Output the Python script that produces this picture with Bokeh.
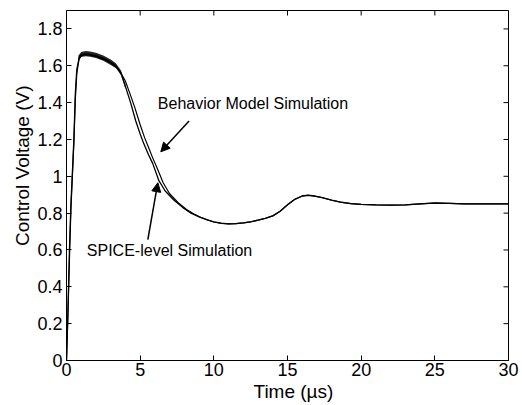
from bokeh.plotting import figure
from bokeh.models import (Range1d, FixedTicker, CustomJSTickFormatter,
                          Arrow, NormalHead, Label, Title)
from bokeh.embed import file_html
from bokeh.resources import INLINE

# ---- data ----
x_ticks = [0, 5, 10, 15, 20, 25, 30]
y_ticks = [0, 0.2, 0.4, 0.6, 0.8, 1.0, 1.2, 1.4, 1.6, 1.8]
X_MAX = 30
Y_MAX = 1.9

spice_t = [0, 0.1, 0.2, 0.3, 0.4, 0.5, 0.6, 0.7, 0.85, 1.0, 1.3, 1.6, 2.0, 2.5, 3.0,
           3.35, 3.7, 4.03, 4.35, 4.7, 5.0, 5.25, 5.55, 5.85, 6.27, 6.7, 7.3, 7.9, 8.45,
           9.0, 9.5, 10, 10.5, 11, 11.5, 12, 12.5, 13, 13.5, 14, 14.5, 15, 15.5, 16,
           16.4, 16.8, 17.3, 18, 18.6, 19.3, 20, 21, 22, 23, 24, 25, 26, 27, 28, 29, 30]
spice_v = [0, 0.28, 0.6, 0.85, 1.02, 1.2, 1.45, 1.58, 1.64, 1.66, 1.665, 1.662, 1.655,
           1.64, 1.62, 1.60, 1.56, 1.48, 1.40, 1.30, 1.23, 1.176, 1.12, 1.07, 0.976,
           0.92, 0.87, 0.83, 0.80, 0.78, 0.765, 0.752, 0.745, 0.742, 0.743, 0.747,
           0.753, 0.762, 0.772, 0.785, 0.81, 0.845, 0.875, 0.893, 0.897, 0.893, 0.885,
           0.87, 0.86, 0.852, 0.848, 0.845, 0.843, 0.845, 0.85, 0.855, 0.853, 0.85,
           0.85, 0.85, 0.85]

# SPICE switching ripple envelope near the peak
ripple_t = [0.8, 1.0, 1.3, 1.6, 2.0, 2.5, 3.0, 3.35, 3.7, 4.0]
ripple_hi = [1.655, 1.675, 1.68, 1.677, 1.67, 1.656, 1.634, 1.614, 1.574, 1.50]
ripple_lo = [1.628, 1.648, 1.652, 1.649, 1.642, 1.627, 1.604, 1.588, 1.548, 1.474]

behav_t = [0, 0.1, 0.2, 0.3, 0.4, 0.5, 0.6, 0.7, 0.85, 1.0, 1.3, 1.6, 2.0, 2.5, 3.0,
           3.55, 3.98, 4.3, 4.65, 5.0, 5.3, 5.55, 5.85, 6.15, 6.56, 7.0, 7.6, 8.15, 8.65,
           9.1, 9.55, 10, 10.5, 11, 11.5, 12, 12.5, 13, 13.5, 14, 14.5, 15, 15.5, 16,
           16.4, 16.8, 17.3, 18, 18.6, 19.3, 20, 21, 22, 23, 24, 25, 26, 27, 28, 29, 30]
behav_v = [0, 0.25, 0.55, 0.82, 1.0, 1.18, 1.42, 1.56, 1.635, 1.655, 1.66, 1.658, 1.65,
           1.635, 1.615, 1.58, 1.52, 1.45, 1.37, 1.28, 1.21, 1.16, 1.10, 1.045, 0.965,
           0.905, 0.855, 0.82, 0.795, 0.778, 0.764, 0.752, 0.745, 0.742, 0.743, 0.747,
           0.753, 0.762, 0.772, 0.785, 0.81, 0.845, 0.875, 0.893, 0.897, 0.893, 0.885,
           0.87, 0.86, 0.852, 0.848, 0.845, 0.843, 0.845, 0.85, 0.855, 0.853, 0.85,
           0.85, 0.85, 0.85]

FONT = "Liberation Sans"

p = figure(frame_width=442, frame_height=350, output_backend="svg", toolbar_location=None,
           x_range=Range1d(0, X_MAX), y_range=Range1d(0, Y_MAX),
           min_border_left=66, min_border_right=14, min_border_top=10,
           min_border_bottom=45)
p.background_fill_color = "white"
p.border_fill_color = "white"
p.outline_line_color = "black"
p.outline_line_width = 1
p.xgrid.visible = False
p.ygrid.visible = False

fmt = CustomJSTickFormatter(code="return String(Number(tick.toFixed(2)));")

for ax, ticks in ((p.xaxis[0], x_ticks), (p.yaxis[0], y_ticks)):
    ax.ticker = FixedTicker(ticks=ticks)
    ax.major_tick_in = 5
    ax.major_tick_out = 0
    ax.minor_tick_line_color = None
    ax.axis_line_color = "black"
    ax.major_tick_line_color = "black"
    ax.major_label_text_font = FONT
    ax.major_label_text_font_size = "18px"
    ax.major_label_text_color = "black"
p.yaxis[0].formatter = fmt
p.xaxis[0].major_label_standoff = 2
p.yaxis[0].major_label_standoff = 4

# axis titles as side titles so that their position along the frame can be set
p.add_layout(Title(text="Control Voltage (V)", align="right", offset=75, standoff=4,
                   text_font=FONT, text_font_size="19px", text_font_style="normal",
                   text_color="black"), "left")
p.add_layout(Title(text="Time (µs)", align="left", offset=187, standoff=0,
                   text_font=FONT, text_font_size="19px", text_font_style="normal",
                   text_color="black"), "below")

# box ticks on top and right edges (inward), drawn as dash markers clipped by the frame
p.scatter(x=x_ticks, y=[Y_MAX] * len(x_ticks), marker="dash", size=10, angle=1.5708,
          line_color="black", line_width=1)
p.scatter(x=[X_MAX] * len(y_ticks), y=y_ticks, marker="dash", size=10,
          line_color="black", line_width=1)

# curves
p.varea(x=ripple_t, y1=ripple_lo, y2=ripple_hi, fill_color="black", fill_alpha=0.85)
p.line(behav_t, behav_v, line_color="black", line_width=1.2)
p.line(spice_t, spice_v, line_color="black", line_width=1.3)

# annotations
p.add_layout(Label(x=6.2, y=1.393, text="Behavior Model Simulation", text_font=FONT,
                   text_font_size="16px", text_color="black", text_baseline="middle",
                   text_align="left"))
p.add_layout(Label(x=1.38, y=0.596, text="SPICE-level Simulation", text_font=FONT,
                   text_font_size="16px", text_color="black", text_baseline="middle",
                   text_align="left"))
p.add_layout(Arrow(x_start=8.32, y_start=1.30, x_end=6.4, y_end=1.133,
                   line_color="black", line_width=1.5,
                   end=NormalHead(size=9, fill_color="black", line_color="black")))
p.add_layout(Arrow(x_start=5.52, y_start=0.656, x_end=6.2, y_end=0.965,
                   line_color="black", line_width=1.5,
                   end=NormalHead(size=9, fill_color="black", line_color="black")))

open("out.html", "w").write(file_html(p, INLINE))
